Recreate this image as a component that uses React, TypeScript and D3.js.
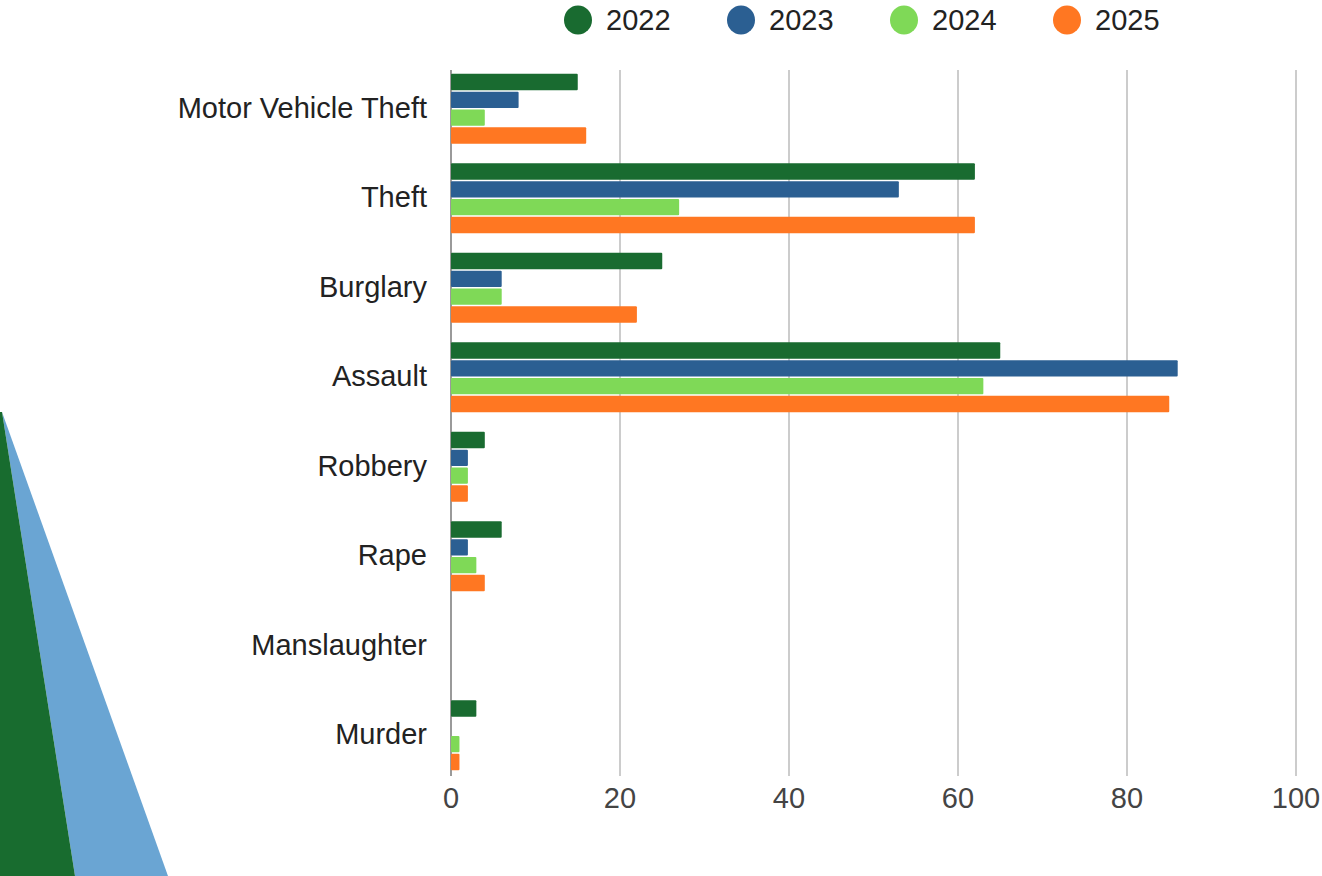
import React from "react";
import * as d3 from "d3";

const categories = ["Motor Vehicle Theft", "Theft", "Burglary", "Assault", "Robbery", "Rape", "Manslaughter", "Murder"];
const seriesNames = ["2022", "2023", "2024", "2025"];
const values2022 = [15, 62, 25, 65, 4, 6, 0, 3];
const values2023 = [8, 53, 6, 86, 2, 2, 0, 0];
const values2024 = [4, 27, 6, 63, 2, 3, 0, 1];
const values2025 = [16, 62, 22, 85, 2, 4, 0, 1];
const seriesValues = [values2022, values2023, values2024, values2025];
const colors = ["#196b30", "#2b5f92", "#7fd957", "#ff7722"];
const xTicks = [0, 20, 40, 60, 80, 100];

const W = 1322;
const H = 876;
const FONT = "'Liberation Sans', Arial, sans-serif";

export default function App() {
  const x = d3.scaleLinear().domain([0, 100]).range([451, 1296]);
  const y = d3.scaleBand<string>().domain(categories).range([64, 780]).paddingInner(0.22).paddingOuter(0.11);
  const inner = d3.scaleBand<string>().domain(seriesNames).range([0, y.bandwidth()]).paddingInner(0.08);

  const legendX = d3.scalePoint<string>().domain(seriesNames).range([578, 1067]);

  return (
    <svg width={W} height={H} style={{ position: "absolute", left: 0, top: 0, background: "#fff" }}>
      <rect x={0} y={0} width={W} height={H} fill="#fff" />
      {/* decorative triangles */}
      <polygon points="2,412 168,876 75,876" fill="#6aa5d3" />
      <polygon points="0,412 2,412 75,876 0,876" fill="#186c2f" />

      {/* gridlines */}
      {xTicks.map((t) => (
        <line key={t} x1={x(t)} x2={x(t)} y1={70} y2={776} stroke={t === 0 ? "#9a9a9a" : "#cccccc"} strokeWidth={2} />
      ))}

      {/* bars */}
      {categories.map((c, i) => (
        <g key={c} transform={`translate(0,${y(c)})`}>
          {seriesNames.map((s, j) => {
            const v = seriesValues[j][i];
            if (v <= 0) return null;
            return (
              <rect
                key={s}
                x={x(0)}
                y={inner(s)}
                width={x(v) - x(0)}
                height={inner.bandwidth()}
                fill={colors[j]}
                rx={1}
              />
            );
          })}
        </g>
      ))}

      {/* category labels */}
      {categories.map((c) => (
        <text
          key={c}
          x={427}
          y={(y(c) as number) + y.bandwidth() / 2 - 1}
          textAnchor="end"
          dominantBaseline="central"
          fontFamily={FONT}
          fontSize={29}
          fill="#222"
        >
          {c}
        </text>
      ))}

      {/* x tick labels */}
      {xTicks.map((t) => (
        <text key={t} x={x(t)} y={798} textAnchor="middle" dominantBaseline="central" fontFamily={FONT} fontSize={29} fill="#444">
          {t}
        </text>
      ))}

      {/* legend */}
      {seriesNames.map((s, j) => (
        <g key={s} transform={`translate(${legendX(s)},20)`}>
          <ellipse cx={0} cy={0} rx={14} ry={14.5} fill={colors[j]} />
          <text x={28} y={0} dominantBaseline="central" fontFamily={FONT} fontSize={29} fill="#222">
            {s}
          </text>
        </g>
      ))}
    </svg>
  );
}
